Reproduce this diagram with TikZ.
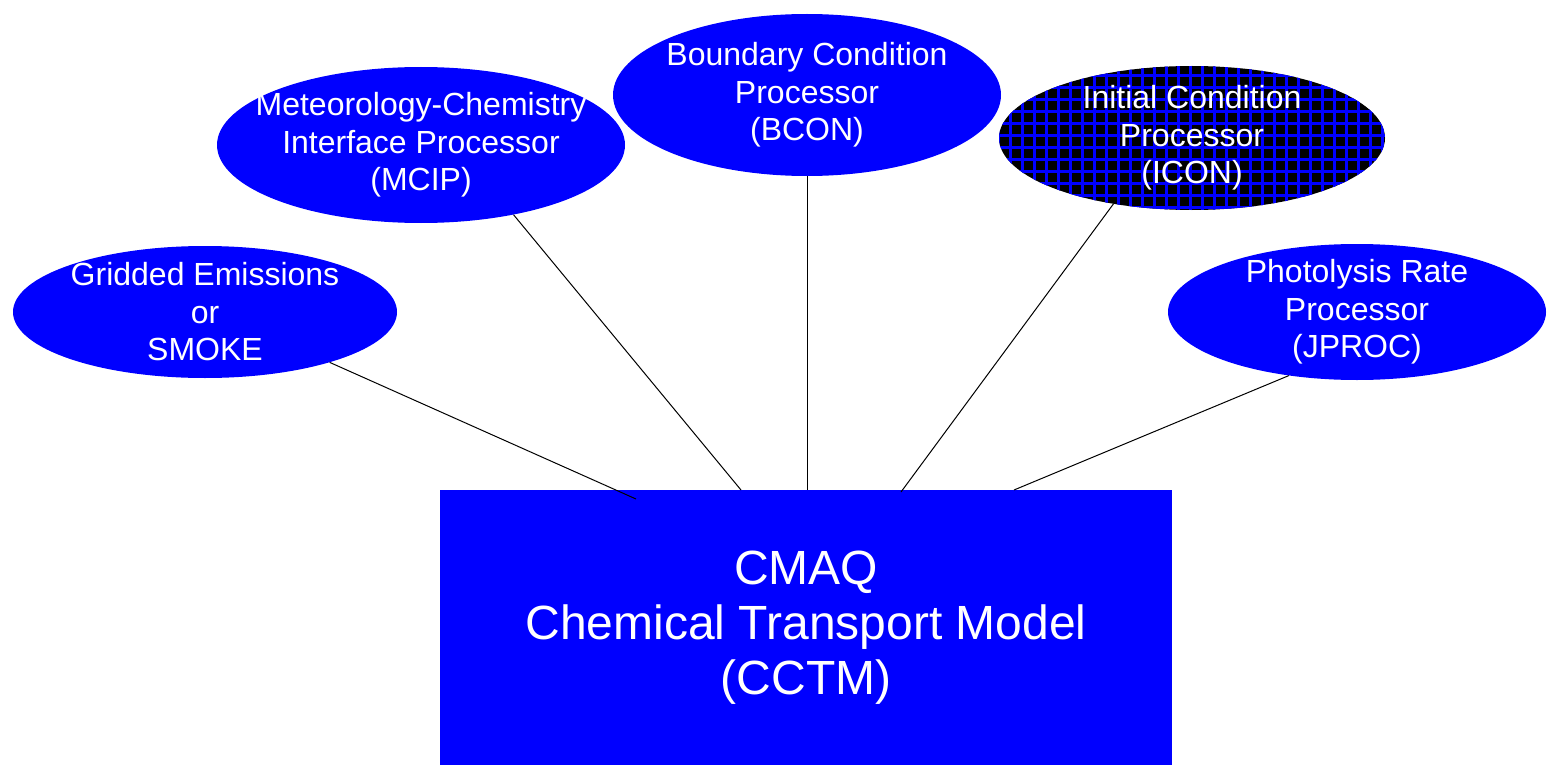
\documentclass[tikz,border=0pt]{standalone}
\usepackage{fontspec}
\setmainfont{Liberation Sans}
\usetikzlibrary{shapes.geometric}
\definecolor{pblue}{RGB}{0,0,255}
\begin{document}
\begin{tikzpicture}[x=1pt,y=-1pt,
  proc/.style={ellipse, fill=pblue, text=white, inner sep=-40pt, align=center,
    font=\fontsize{32}{37.5}\selectfont},
  model/.style={rectangle, fill=pblue, text=white, inner sep=0pt, align=center,
    font=\fontsize{48}{55}\selectfont},
  link/.style={draw=black, line width=1pt}]
\useasboundingbox[fill=white] (0,0) rectangle (1547,765);
\node[model, minimum width=732pt, minimum height=275pt] (cctm) at (806,627.5)
  {CMAQ\\Chemical Transport Model\\(CCTM)};
\coordinate (e1) at (636,499);
\coordinate (e2) at (741,490);
\coordinate (e3) at (807,490);
\coordinate (e4) at (901,492);
\coordinate (e5) at (1014,490);
\node[proc, minimum width=384pt, minimum height=132pt] (ge) at (205,312)
  {Gridded Emissions\\or\\SMOKE};
\node[proc, minimum width=408pt, minimum height=156pt] (mcip) at (421,145)
  {Meteorology-Chemistry\\Interface Processor\\(MCIP)};
\node[proc, minimum width=388pt, minimum height=162pt] (bcon) at (807,95)
  {Boundary Condition\\Processor\\(BCON)};
\node[proc, fill=black, minimum width=386pt, minimum height=144pt,
  path picture={\draw[pblue, line width=3pt, step=12pt]
    ([shift={(-12pt,-12pt)}]path picture bounding box.south west) grid
    ([shift={(12pt,12pt)}]path picture bounding box.north east);}]
  (icon) at (1192,138) {Initial Condition\\Processor\\(ICON)};
\node[proc, minimum width=378pt, minimum height=136pt] (jproc) at (1357,312)
  {Photolysis Rate\\Processor\\(JPROC)};
\draw[link] (ge.-22) -- (e1);
\draw[link] (mcip.-37) -- (e2);
\draw[link] (bcon) -- (e3);
\draw[link] (icon.-140) -- (e4);
\draw[link] (jproc.-137) -- (e5);
\end{tikzpicture}
\end{document}
